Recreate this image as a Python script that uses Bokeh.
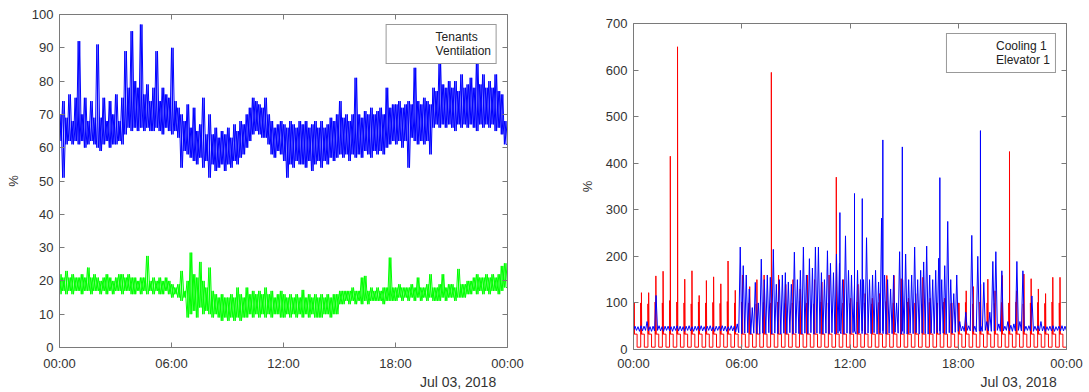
from bokeh.plotting import figure
from bokeh.models import Range1d, FixedTicker, LinearAxis, Legend, LegendItem
from bokeh.layouts import row, column
from bokeh.embed import file_html
from bokeh.resources import INLINE

# ---------------- data ----------------
HOUR_TICKS = [0, 6, 12, 18, 24]
HOUR_LABELS = ["00:00", "06:00", "12:00", "18:00", "00:00"]
DATE_LABEL = "Jul 03, 2018"
DATE_POS = 21.35
LEFT_YTICKS = [0, 10, 20, 30, 40, 50, 60, 70, 80, 90, 100]
RIGHT_YTICKS = [0, 100, 200, 300, 400, 500, 600, 700]
BIN_H = 1.0 / 6.0          # 10-minute bins (hours)
CYCLE_H = 0.4              # cooling cycle length (hours)

# Ventilation (%) : per-10-min high / low
vent_hi = [70, 74, 69, 76, 68, 75, 92, 70, 75, 68, 74, 69, 91, 69, 75, 68, 74, 70,
           76, 68, 75, 89, 78, 95, 80, 78, 97, 76, 79, 74, 78, 89, 74, 78, 76, 75,
           90, 74, 72, 70, 68, 73, 66, 72, 65, 67, 75, 64, 70, 64, 66, 63, 65, 64,
           66, 63, 67, 65, 68, 67, 70, 72, 75, 74, 73, 72, 75, 70, 68, 66, 67, 68,
           67, 66, 68, 67, 66, 68, 67, 68, 66, 67, 68, 66, 68, 66, 67, 69, 68, 70,
           74, 69, 70, 68, 70, 81, 70, 69, 71, 70, 72, 70, 71, 72, 70, 78, 72, 73,
           73, 74, 72, 73, 74, 73, 84, 74, 73, 75, 74, 73, 78, 77, 86, 79, 78, 80,
           78, 80, 77, 82, 78, 79, 81, 78, 86, 79, 82, 78, 80, 78, 82, 77, 76, 68]
vent_lo = [62, 51, 61, 62, 61, 62, 61, 62, 60, 61, 62, 61, 60, 59, 61, 62, 60, 61,
           61, 62, 61, 64, 66, 65, 66, 65, 66, 65, 66, 65, 65, 66, 65, 64, 66, 65,
           64, 65, 63, 54, 59, 58, 57, 56, 55, 57, 54, 56, 51, 55, 53, 54, 55, 53,
           55, 54, 56, 55, 57, 58, 60, 62, 64, 65, 64, 63, 63, 61, 58, 57, 59, 58,
           56, 51, 55, 54, 56, 55, 55, 54, 56, 53, 55, 56, 54, 56, 55, 57, 56, 57,
           58, 57, 58, 56, 58, 57, 58, 57, 59, 58, 57, 59, 58, 59, 58, 60, 61, 62,
           61, 62, 60, 62, 54, 63, 62, 61, 62, 61, 62, 58, 66, 67, 66, 67, 66, 67,
           66, 65, 67, 66, 67, 66, 67, 66, 65, 67, 66, 67, 66, 67, 65, 66, 64, 61]

# Tenants (%) : per-10-min high / low
ten_hi = [22, 21, 23, 21, 22, 21, 21, 22, 21, 24, 21, 22, 21, 20, 21, 22, 21, 20,
          21, 22, 22, 21, 22, 21, 21, 20, 21, 21, 27.5, 20, 21, 20, 21, 20, 21, 20,
          19, 18, 19, 23, 17, 20, 28.5, 22, 21, 25.7, 20, 18, 24, 17, 16, 15, 16, 15,
          15, 16, 15, 18, 16, 15, 18, 16, 17, 16, 17, 16, 18, 16, 17, 15, 16, 17,
          16, 15, 16, 15, 16, 15, 17.3, 15, 16, 15, 16, 15, 16, 15, 16, 15, 16, 16,
          17, 17, 17, 17, 18, 17, 17, 21, 21.5, 17, 18, 17, 18, 17, 18, 18, 27, 18,
          18, 19, 18, 18, 18, 19, 18, 21, 18, 18, 19, 22, 18, 18, 19, 22, 18, 19,
          19, 18, 23.6, 19, 19, 20, 20, 21, 22, 21, 21, 22, 21, 22, 21, 22, 24.5, 25.3]
ten_lo = [16, 17, 16, 17, 16, 17, 17, 16, 17, 17, 16, 17, 17, 16, 17, 16, 17, 16,
          17, 17, 16, 17, 17, 16, 16, 17, 16, 17, 16, 17, 16, 17, 16, 16, 17, 16,
          15, 16, 15, 14, 15, 9, 10, 11, 9, 12, 10, 11, 10, 9, 10, 9, 8, 9,
          8, 9, 8, 9, 8, 9, 9, 10, 9, 10, 9, 10, 9, 10, 9, 10, 10, 9,
          9, 10, 9, 10, 9, 10, 9, 10, 9, 10, 9, 9, 9, 10, 10, 9, 10, 10,
          13, 13, 14, 13, 14, 13, 14, 13, 14, 13, 14, 14, 14, 14, 13, 14, 14, 14,
          14, 15, 14, 15, 14, 15, 14, 15, 14, 15, 14, 15, 14, 14, 14, 15, 14, 15,
          15, 14, 15, 15, 15, 16, 16, 17, 16, 17, 16, 17, 16, 17, 17, 16, 17, 18]

# Cooling 1 (%) : per-cycle first pulse and main peak, plateau levels
cool_pre = [100, 100, 98, 102, 100, 105, 102, 100, 98, 102, 100, 101, 99, 103, 100,
            102, 100, 98, 101, 100, 102, 99, 100, 103, 100, 98, 102, 100, 101, 100,
            99, 102, 100, 98, 101, 103, 100, 99, 102, 100, 98, 101, 100, 102, 99,
            100, 101, 98, 102, 100, 99, 101, 100, 102, 98, 100, 101, 99, 102, 100]
cool_peak = [100, 122, 122, 158, 168, 415, 650, 151, 169, 116, 148, 156, 141, 190, 127,
             160, 135, 150, 160, 595, 160, 140, 150, 130, 160, 150, 145, 160, 370, 150,
             110, 140, 120, 110, 120, 159, 159, 152, 110, 120, 155, 110, 100, 110, 100,
             100, 126, 135, 140, 151, 126, 159, 425, 126, 162, 152, 130, 120, 155, 155]
COOL_OFF = 5
COOL_ON = 33

# Elevator 1 (%) : per-10-min high / low, plus tall spikes
elev_hi = [50, 49, 51, 50, 60, 49, 50, 116, 51, 49, 50, 50, 49, 50, 51, 50, 49, 50,
           51, 49, 50, 50, 51, 49, 50, 51, 49, 50, 50, 51, 50, 49, 51, 50, 55, 220,
           180, 160, 130, 90, 144, 100, 194, 150, 160, 155, 215, 140, 150, 160, 165, 145, 140, 209,
           150, 170, 220, 160, 195, 175, 220, 220, 165, 150, 212, 185, 165, 205, 185, 150, 244, 170,
           160, 140, 170, 150, 150, 240, 150, 160, 170, 145, 282, 160, 150, 130, 160, 100, 210, 150,
           205, 150, 160, 220, 150, 170, 188, 222, 160, 150, 170, 196, 150, 180, 275, 150, 120, 160,
           60, 50, 80, 51, 245, 50, 200, 50, 144, 60, 80, 189, 210, 55, 169, 50, 60, 52,
           55, 189, 60, 169, 50, 51, 115, 50, 51, 60, 50, 49, 50, 51, 49, 50, 51, 50]
elev_lo = [40, 41, 39, 40, 41, 40, 39, 40, 41, 40, 39, 41, 40, 39, 41, 40, 40, 39,
           41, 40, 39, 41, 40, 40, 39, 41, 40, 39, 41, 40, 40, 39, 41, 40, 38, 36,
           34, 35, 36, 33, 35, 34, 33, 35, 34, 36, 33, 35, 34, 33, 35, 34, 36, 33,
           35, 34, 33, 35, 34, 36, 33, 35, 34, 33, 35, 34, 36, 33, 35, 34, 33, 35,
           34, 36, 33, 35, 34, 33, 35, 34, 36, 33, 35, 34, 33, 35, 34, 37, 35, 33,
           34, 33, 35, 34, 36, 33, 35, 34, 33, 35, 34, 36, 33, 35, 34, 36, 35, 37,
           39, 40, 39, 41, 40, 39, 38, 40, 39, 41, 40, 39, 40, 41, 39, 40, 41, 40,
           39, 40, 41, 40, 39, 41, 40, 39, 41, 40, 40, 39, 41, 40, 39, 41, 40, 40]
elev_spike_t = [11.44, 12.25, 12.68, 13.82, 14.9, 16.98, 19.23]
elev_spike_v = [294, 335, 324, 450, 435, 369, 470]
ELEV_BASE = 40

# ---------------- series builders ----------------
def band_series(lo, hi, spikes_t=(), spikes_v=(), base=None, flip=False):
    pts = []
    for i, (a, b) in enumerate(zip(lo, hi)):
        t = i * BIN_H
        first, second = (b, a) if flip else (a, b)
        pts.append((t, first))
        pts.append((t + BIN_H / 2, second))
    pts.append((len(lo) * BIN_H, lo[-1]))
    for t, v in zip(spikes_t, spikes_v):
        pts += [(t, base), (t, v), (t, base)]
    pts.sort(key=lambda p: p[0])
    return [p[0] for p in pts], [p[1] for p in pts]


def cooling_series(pre, peak):
    xs, ys = [], []
    for k, (a, b) in enumerate(zip(pre, peak)):
        t0 = k * CYCLE_H
        seq = [(t0, COOL_OFF), (t0, a), (t0 + 0.015, COOL_ON), (t0 + 0.04, COOL_ON),
               (t0 + 0.04, b), (t0 + 0.055, COOL_ON), (t0 + 0.2, COOL_ON), (t0 + 0.2, COOL_OFF)]
        for x, y in seq:
            xs.append(x)
            ys.append(y)
    xs.append(24)
    ys.append(COOL_OFF)
    return xs, ys

# ---------------- styling ----------------
FONT = "Liberation Sans"
AX = "#7a7a7a"
TXT = "#333333"


def plain_axis(ticks):
    return LinearAxis(ticker=FixedTicker(ticks=ticks), major_label_text_font_size="1px",
                      major_label_text_color=None, major_tick_in=5, major_tick_out=0,
                      minor_tick_line_color=None, axis_line_color=AX,
                      major_tick_line_color=AX, major_label_standoff=0)


def make_fig(w, ymax, yticks, ml, mr, mt, mb, xstand):
    p = figure(width=w, height=392, output_backend="svg", toolbar_location=None, title=None,
               x_range=Range1d(0, 24), y_range=Range1d(0, ymax), lod_threshold=None,
               min_border_left=ml, min_border_right=mr, min_border_top=mt, min_border_bottom=mb)
    p.grid.visible = False
    p.outline_line_color = None
    p.background_fill_color = "white"
    p.border_fill_color = "white"
    xa = p.xaxis[0]
    xa.ticker = FixedTicker(ticks=HOUR_TICKS)
    xa.major_label_overrides = {t: s for t, s in zip(HOUR_TICKS, HOUR_LABELS)}
    ya = p.yaxis[0]
    ya.ticker = FixedTicker(ticks=yticks)
    ya.axis_label = "%"
    ya.axis_label_text_font_style = "normal"
    ya.axis_label_text_font = FONT
    ya.axis_label_text_font_size = "13px"
    ya.axis_label_text_color = TXT
    ya.axis_label_standoff = 8
    xa.major_label_standoff = xstand
    ya.major_label_standoff = 6
    for ax in (xa, ya):
        ax.major_tick_in = 5
        ax.major_tick_out = 0
        ax.minor_tick_line_color = None
        ax.axis_line_color = AX
        ax.major_tick_line_color = AX
        ax.major_label_text_font = FONT
        ax.major_label_text_font_size = "13px"
        ax.major_label_text_color = TXT
    p.add_layout(plain_axis(HOUR_TICKS), "above")
    p.add_layout(plain_axis(yticks), "right")
    date_ax = LinearAxis(ticker=FixedTicker(ticks=[DATE_POS]),
                         major_label_overrides={DATE_POS: DATE_LABEL},
                         axis_line_color=None, major_tick_line_color=None,
                         minor_tick_line_color=None, major_tick_in=0, major_tick_out=0,
                         major_label_standoff=0, major_label_text_font=FONT,
                         major_label_text_font_size="14px", major_label_text_color=TXT)
    p.add_layout(date_ax, "below")
    return p


def add_legend(p, items):
    # each legend entry gets its own empty line renderer carrying the series style
    entries = []
    for label, color in items:
        key = p.line(x=[], y=[], line_color=color, line_width=1)
        entries.append(LegendItem(label=label, renderers=[key]))
    lg = Legend(items=entries,
                location="top_right", margin=10, padding=5, spacing=0,
                label_text_font=FONT, label_text_font_size="12px", label_text_color="#222222",
                glyph_width=40, glyph_height=12, label_height=12, label_standoff=4,
                border_line_color="#333333", border_line_width=1,
                background_fill_color="white", background_fill_alpha=1)
    p.add_layout(lg)

GREEN = "#00ff00"
BLUE = "#0000ff"
RED = "#ff0000"

# ---------------- left panel ----------------
p1 = make_fig(545, 100, LEFT_YTICKS, 59, 38, 14, 43, 8)
p1.line(*band_series(ten_lo, ten_hi), line_color=GREEN, line_width=1)
p1.line(*band_series(ten_lo, ten_hi, flip=True), line_color=GREEN, line_width=1)
p1.line(*band_series(vent_lo, vent_hi), line_color=BLUE, line_width=1)
p1.line(*band_series(vent_lo, vent_hi, flip=True), line_color=BLUE, line_width=1)
add_legend(p1, [("Tenants", GREEN), ("Ventilation", BLUE)])

# ---------------- right panel ----------------
p2 = make_fig(544, 700, RIGHT_YTICKS, 88, 23, 23, 41, 6)
p2.line(*cooling_series(cool_pre, cool_peak), line_color=RED, line_width=1)
p2.line(*band_series(elev_lo, elev_hi, elev_spike_t, elev_spike_v, ELEV_BASE),
        line_color=BLUE, line_width=1)
add_legend(p2, [("Cooling 1", RED), ("Elevator 1", BLUE)])

layout = row(p1, column(p2))
open("out.html", "w").write(file_html(layout, INLINE))
